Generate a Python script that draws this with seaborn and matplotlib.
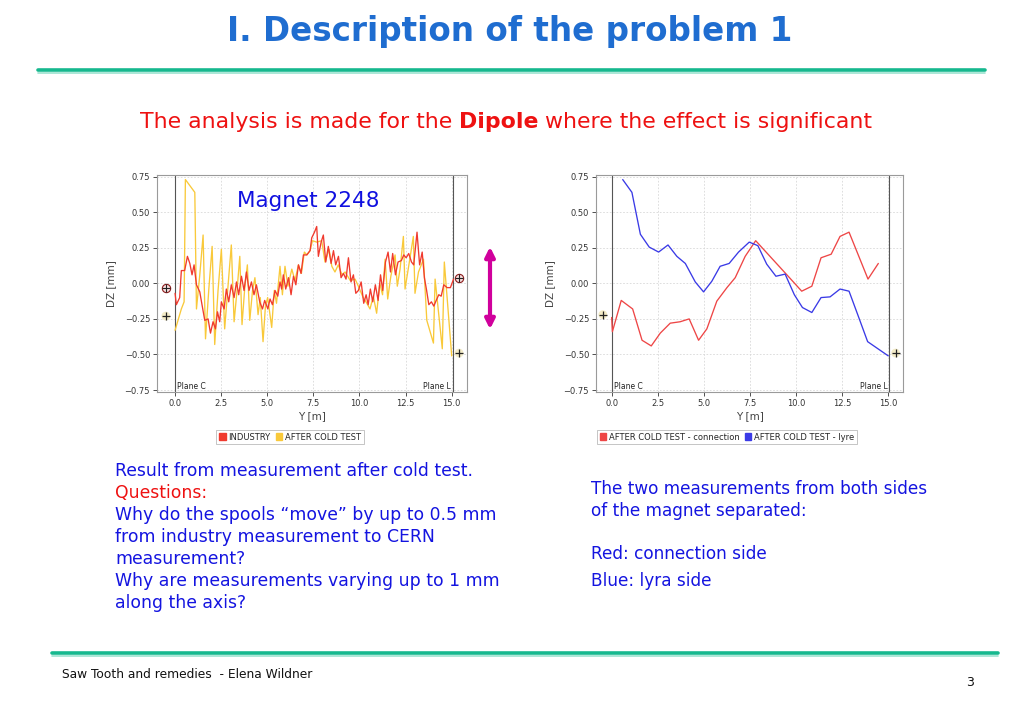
import numpy as np
import pandas as pd
import matplotlib
matplotlib.use("Agg")
import matplotlib.pyplot as plt
import seaborn as sns
from matplotlib.lines import Line2D
from matplotlib.patches import Patch, FancyArrowPatch

# ---- data: left chart (Magnet 2248) ----
industry_y = [0.0, 0.07, 0.25, 0.34, 0.52, 0.67, 0.80, 0.92, 1.03, 1.16, 1.34, 1.46, 1.61, 1.79,
              1.92, 2.06, 2.19, 2.30, 2.42, 2.51, 2.66, 2.78, 2.91, 3.05, 3.20, 3.33, 3.45, 3.60,
              3.74, 3.87, 4.01, 4.14, 4.28, 4.41, 4.59, 4.74, 4.86, 5.03, 5.15, 5.28, 5.42, 5.57,
              5.69, 5.78, 5.87, 6.00, 6.15, 6.29, 6.42, 6.55, 6.69, 6.83, 6.96, 7.14, 7.32, 7.41,
              7.56, 7.68, 7.77, 7.92, 8.04, 8.17, 8.31, 8.46, 8.59, 8.71, 8.86, 9.00, 9.13, 9.27,
              9.40, 9.54, 9.67, 9.80, 9.94, 10.09, 10.23, 10.36, 10.47, 10.59, 10.72, 10.86, 11.01,
              11.14, 11.26, 11.41, 11.55, 11.68, 11.80, 11.95, 12.09, 12.27, 12.40, 12.53, 12.67,
              12.82, 12.94, 13.12, 13.26, 13.40, 13.52, 13.64, 13.76, 13.90, 14.03, 14.16, 14.30,
              14.43, 14.57, 14.75, 14.93, 15.10]
industry_dz = [-0.07, -0.15, -0.10, 0.09, 0.09, 0.19, 0.14, 0.06, 0.13, -0.01, -0.06, -0.15, -0.26, -0.25,
               -0.35, -0.27, -0.32, -0.20, -0.27, -0.13, -0.18, -0.04, -0.13, -0.01, -0.10, 0.01, -0.08, 0.05,
               -0.05, 0.08, -0.05, 0.01, -0.08, -0.01, -0.13, -0.18, -0.12, -0.18, -0.11, -0.15, -0.05, -0.09,
               0.01, -0.04, 0.06, -0.04, 0.04, -0.08, 0.05, -0.01, 0.13, 0.07, 0.20, 0.20, 0.23, 0.32,
               0.36, 0.40, 0.19, 0.29, 0.34, 0.15, 0.26, 0.14, 0.23, 0.13, 0.19, 0.04, 0.07, 0.03,
               0.18, 0.01, 0.06, -0.07, -0.05, 0.01, -0.14, -0.08, -0.15, -0.04, -0.13, -0.01, -0.12,
               0.06, -0.05, 0.15, 0.22, 0.08, 0.21, 0.06, 0.15, 0.16, 0.20, 0.18, 0.21,
               0.15, 0.13, 0.36, 0.13, 0.22, 0.04, -0.05, -0.15, -0.13, -0.16, -0.12, -0.08,
               -0.09, -0.01, -0.03, -0.03, 0.03]

cold_y = [0.0, 0.34, 0.49, 0.56, 1.07, 1.16, 1.34, 1.52, 1.65, 1.83, 2.01, 2.15, 2.33, 2.51, 2.69,
          2.87, 3.05, 3.20, 3.36, 3.51, 3.63, 3.78, 3.92, 4.05, 4.20, 4.33, 4.50, 4.62, 4.77, 4.90,
          5.02, 5.24, 5.38, 5.50, 5.69, 5.82, 5.96, 6.12, 6.33, 6.50, 6.69, 6.85, 7.01, 7.15, 7.32,
          7.45, 7.68, 7.95, 8.13, 8.35, 8.50, 8.67, 8.85, 9.05, 9.22, 9.50, 9.76, 9.94, 10.20, 10.40,
          10.57, 10.75, 10.93, 11.10, 11.25, 11.39, 11.53, 11.70, 11.93, 12.05, 12.20, 12.38, 12.47,
          12.74, 12.92, 13.01, 13.20, 13.47, 13.65, 14.01, 14.10, 14.49, 14.60, 15.00]
cold_dz = [-0.33, -0.18, -0.13, 0.73, 0.64, -0.18, 0.06, 0.34, -0.39, -0.04, 0.26, -0.43, -0.05, 0.24, -0.32,
           -0.02, 0.27, -0.27, -0.05, 0.19, -0.29, -0.03, 0.13, -0.26, -0.05, 0.04, -0.22, -0.10, -0.41, -0.16,
           -0.10, -0.31, -0.05, -0.14, 0.12, -0.08, 0.12, -0.02, 0.10, 0.02, 0.13, 0.07, 0.22, 0.20, 0.23,
           0.30, 0.29, 0.30, 0.15, 0.24, 0.12, 0.08, 0.13, 0.06, 0.08, 0.02, 0.03, -0.02, -0.10, -0.14,
           -0.18, -0.09, -0.21, 0.00, -0.08, 0.17, -0.11, 0.05, 0.20, -0.02, 0.10, 0.33, -0.04,
           0.18, 0.33, -0.07, 0.08, 0.17, -0.26, -0.42, 0.03, -0.46, 0.15, -0.51]

# ---- data: right chart (both sides after cold test) ----
conn_y = [-0.02, 0.02, 0.50, 1.12, 1.63, 2.13, 2.62, 3.16, 3.70, 4.19, 4.70, 5.15, 5.69, 6.24, 6.69,
          7.23, 7.80, 8.40, 9.00, 9.60, 10.30, 10.85, 11.35, 11.90, 12.38, 12.87, 13.37, 13.90, 14.46]
conn_dz = [-0.24, -0.34, -0.12, -0.18, -0.40, -0.44, -0.35, -0.28, -0.27, -0.25, -0.40, -0.32, -0.125, -0.03, 0.04,
           0.19, 0.30, 0.215, 0.13, 0.045, -0.055, -0.02, 0.18, 0.205, 0.33, 0.36, 0.20, 0.03, 0.14]

lyre_y = [0.58, 1.08, 1.54, 2.02, 2.53, 3.04, 3.52, 3.98, 4.52, 4.97, 5.42, 5.87, 6.36, 6.87, 7.45,
          7.92, 8.40, 8.90, 9.40, 9.90, 10.34, 10.85, 11.35, 11.84, 12.38, 12.87, 13.37, 13.88, 15.00]
lyre_dz = [0.73, 0.64, 0.345, 0.255, 0.22, 0.27, 0.19, 0.14, 0.01, -0.06, 0.015, 0.12, 0.14, 0.22, 0.29,
           0.265, 0.135, 0.05, 0.065, -0.08, -0.17, -0.205, -0.10, -0.095, -0.04, -0.055, -0.23, -0.41, -0.51]

y_ticks = [0.0, 2.5, 5.0, 7.5, 10.0, 12.5, 15.0]
dz_ticks = [-0.75, -0.50, -0.25, 0.00, 0.25, 0.50, 0.75]

W, H = 1024, 709
sns.set_theme(style="white")
plt.rcParams['font.family'] = ['DejaVu Sans']


def fx(x):
    return x / W


def fy(y):
    return 1 - y / H


fig = plt.figure(figsize=(W / 100, H / 100), dpi=100)
fig.patch.set_facecolor("white")

left_df = pd.concat([
    pd.DataFrame({"Y": industry_y, "DZ": industry_dz, "series": "INDUSTRY"}),
    pd.DataFrame({"Y": cold_y, "DZ": cold_dz, "series": "AFTER COLD TEST"}),
])
right_df = pd.concat([
    pd.DataFrame({"Y": conn_y, "DZ": conn_dz, "series": "AFTER COLD TEST - connection"}),
    pd.DataFrame({"Y": lyre_y, "DZ": lyre_dz, "series": "AFTER COLD TEST - lyre"}),
])

left_pal = {"INDUSTRY": "#f03a2e", "AFTER COLD TEST": "#f9c93a"}
right_pal = {"AFTER COLD TEST - connection": "#ee4646", "AFTER COLD TEST - lyre": "#3a3ae6"}

ax1 = fig.add_axes([fx(157), fy(392), 310 / W, 217 / H])
ax2 = fig.add_axes([fx(596), fy(392), 307 / W, 217 / H])


def style_axis(ax, xlim):
    ax.set_xlim(*xlim)
    ax.set_ylim(-0.764, 0.762)
    ax.set_xticks(y_ticks)
    ax.set_xticklabels([f"{t:.1f}" for t in y_ticks])
    ax.set_yticks(dz_ticks)
    ax.set_yticklabels([f"{t:.2f}".replace("-", "\u2212") for t in dz_ticks])
    ax.grid(True, color="#d8d8d8", linestyle=(0, (2, 2)), linewidth=0.6)
    for s in ax.spines.values():
        s.set_color("#9a9a9a")
        s.set_linewidth(0.8)
    ax.tick_params(axis="both", which="both", labelsize=6, colors="#333333",
                   length=3, width=0.6, direction="out", pad=2, left=True, bottom=True)
    ax.set_xlabel("Y [m]", fontsize=7.5, color="#444444", labelpad=2)
    ax.set_ylabel("DZ [mm]", fontsize=7.5, color="#444444", labelpad=6)
    ax.axvline(0.0, color="#555555", lw=0.8, zorder=1)
    ax.axvline(15.05, color="#555555", lw=0.8, zorder=1)
    ax.text(0.1, -0.755, "Plane C", fontsize=5.5, color="#222222", va="bottom", ha="left")
    ax.text(14.95, -0.755, "Plane L", fontsize=5.5, color="#222222", va="bottom", ha="right")


def mark_plus(ax, x, y):
    ax.scatter([x], [y], s=40, color="#f4ecc8", edgecolor="none", clip_on=False, zorder=4)
    ax.scatter([x], [y], s=32, marker="+", color="#222222", linewidths=0.9, clip_on=False, zorder=5)


def mark_oplus(ax, x, y):
    ax.scatter([x], [y], s=36, color="#f6dede", edgecolor="#8a1c1c", linewidths=0.8, clip_on=False, zorder=4)
    ax.scatter([x], [y], s=26, marker="+", color="#222222", linewidths=0.8, clip_on=False, zorder=5)


sns.lineplot(data=left_df, x="Y", y="DZ", hue="series", palette=left_pal,
             hue_order=["AFTER COLD TEST", "INDUSTRY"], ax=ax1, linewidth=0.95, legend=False,
             estimator=None, sort=False)
style_axis(ax1, (-0.98, 15.83))
mark_oplus(ax1, -0.5, -0.03)
mark_plus(ax1, -0.5, -0.23)
mark_oplus(ax1, 15.4, 0.04)
mark_plus(ax1, 15.4, -0.49)
ax1.text(3.36, 0.58, "Magnet 2248", fontsize=15.5, color="#1010e0", ha="left", va="center")

sns.lineplot(data=right_df, x="Y", y="DZ", hue="series", palette=right_pal, ax=ax2,
             linewidth=0.95, legend=False, estimator=None, sort=False)
style_axis(ax2, (-0.87, 15.8))
mark_plus(ax2, -0.5, -0.22)
mark_plus(ax2, 15.4, -0.49)

# legends below the charts
leg_kw = dict(loc="center", bbox_transform=fig.transFigure, fontsize=6, frameon=True,
              fancybox=False, edgecolor="#aaaaaa", handlelength=0.8, handleheight=0.8,
              handletextpad=0.3, columnspacing=0.6, borderpad=0.35, ncol=2)
h1 = [Patch(color=left_pal["INDUSTRY"]), Patch(color=left_pal["AFTER COLD TEST"])]
l1 = ax1.legend(h1, ["INDUSTRY", "AFTER COLD TEST"], bbox_to_anchor=(fx(290), fy(437)), **leg_kw)
l1.get_frame().set_linewidth(0.6)
h2 = [Patch(color=right_pal["AFTER COLD TEST - connection"]), Patch(color=right_pal["AFTER COLD TEST - lyre"])]
l2 = ax2.legend(h2, ["AFTER COLD TEST - connection", "AFTER COLD TEST - lyre"],
                bbox_to_anchor=(fx(727), fy(437)), **leg_kw)
l2.get_frame().set_linewidth(0.6)

# slide decorations
fig.text(fx(510), fy(32), "I. Description of the problem 1", fontsize=23.5, fontweight="bold",
         color="#1f6dd0", ha="center", va="center")
for y0, x0, x1 in [(69.5, 38, 985), (652.5, 52, 998)]:
    fig.add_artist(Line2D([fx(x0), fx(x1)], [fy(y0), fy(y0)], lw=2.6, color="#16b88e"))
    fig.add_artist(Line2D([fx(x0), fx(x1)], [fy(y0 + 3), fy(y0 + 3)], lw=1.2, color="#9ce3cf"))

# subtitle with bold word
renderer = fig.canvas.get_renderer()
parts = [("The analysis is made for the ", "normal"), ("Dipole", "bold"),
         (" where the effect is significant", "normal")]
sub_size = 15.8
widths = []
for txt, wt in parts:
    t = fig.text(0, 0, txt, fontsize=sub_size, fontweight=wt)
    widths.append(t.get_window_extent(renderer).width)
    t.remove()
xpos = 506 - sum(widths) / 2
for (txt, wt), wdt in zip(parts, widths):
    fig.text(fx(xpos), fy(122), txt, fontsize=sub_size, fontweight=wt, color="#ee1111",
             ha="left", va="center")
    xpos += wdt

blue = "#1414e0"
left_lines = [("Result from measurement after cold test.", blue), ("Questions:", "#ee1111"),
              ("Why do the spools \u201cmove\u201d by up to 0.5 mm", blue),
              ("from industry measurement to CERN", blue), ("measurement?", blue),
              ("Why are measurements varying up to 1 mm", blue), ("along the axis?", blue)]
for i, (txt, col) in enumerate(left_lines):
    fig.text(fx(115), fy(471 + i * 22), txt, fontsize=12.4, color=col, ha="left", va="center")

for txt, yy in [("The two measurements from both sides", 489), ("of the magnet separated:", 511),
                ("Red: connection side", 554), ("Blue: lyra side", 581)]:
    fig.text(fx(591), fy(yy), txt, fontsize=12.2, color=blue, ha="left", va="center")

fig.add_artist(FancyArrowPatch((fx(490), fy(244)), (fx(490), fy(332)), transform=fig.transFigure,
                               arrowstyle="<|-|>", mutation_scale=14, lw=3, color="#d0009c"))

fig.text(fx(62), fy(674), "Saw Tooth and remedies  - Elena Wildner", fontsize=8.8, color="#111111",
         ha="left", va="center")
fig.text(fx(970), fy(683), "3", fontsize=9, color="#111111", ha="center", va="center")

fig.savefig("out.png", dpi=100)
